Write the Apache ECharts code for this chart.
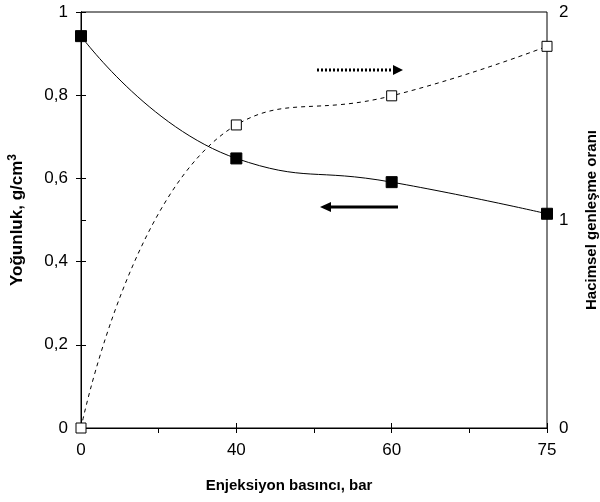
<!DOCTYPE html>
<html><head><meta charset="utf-8">
<script src="https://cdn.jsdelivr.net/npm/echarts@6/dist/echarts.min.js"></script>
<style>html,body{margin:0;padding:0;background:#fff}#c{width:600px;height:502px}</style>
</head><body><div id="c"></div>
<script>
var categories = ['0', '40', '60', '75'];
var density = [0.942, 0.648, 0.591, 0.515];
var expansion = [0, 1.457, 1.597, 1.835];
var leftTicks = ['0', '0,2', '0,4', '0,6', '0,8', '1'];
var rightTicks = ['0', '1', '2'];

var FONT = '"Liberation Sans", Arial, sans-serif';
var chart = echarts.init(document.getElementById('c'));
function pts(arr){ return arr.map(function(v,i){ return [i, v]; }); }
var tickStyle = {color:'#000', fontFamily: FONT, fontSize: 17};
function nameStyle(sz){ return {color:'#000', fontFamily: FONT, fontWeight:'bold', fontSize: sz}; }

chart.setOption({
  animation: false,
  backgroundColor: '#fff',
  grid: {left: 81, right: 53, top: 12, bottom: 74, show: true, borderColor: '#000', borderWidth: 1,
         containLabel: false, outerBoundsMode: 'none'},
  xAxis: [{
    type: 'value', min: 0, max: categories.length - 1, interval: 1,
    axisLine: {lineStyle: {color:'#000'}},
    axisTick: {length: 5, lineStyle:{color:'#000'}},
    minorTick: {show: true, splitNumber: 2, length: 5, lineStyle:{color:'#000'}},
    splitLine: {show: false},
    axisLabel: Object.assign({margin: 14, formatter: function(v){ return categories[v] || ''; }}, tickStyle),
    name: 'Enjeksiyon basıncı, bar', nameLocation: 'middle', nameGap: 50,
    nameTextStyle: Object.assign({padding: [0, 50, 0, 0]}, nameStyle(15))
  }, {
    type: 'value', min: 0, max: categories.length - 1, interval: 1, position: 'bottom',
    axisLine: {show: false}, axisTick: {show: true, inside: true, length: 5, lineStyle:{color:'#000'}},
    axisLabel: {show: false}, splitLine: {show: false}
  }],
  yAxis: [{
    type: 'value', min: 0, max: 1, interval: 0.2, position: 'left',
    axisLine: {show: true, lineStyle: {color:'#000'}},
    axisTick: {show: true, length: 5, lineStyle:{color:'#000'}},
    splitLine: {show: false},
    axisLabel: Object.assign({margin: 13, formatter: function(v){ return leftTicks[Math.round(v/0.2)]; }}, tickStyle),
    name: 'Yoğunluk, g/cm{sup|3}', nameLocation: 'middle', nameGap: 53,
    nameTextStyle: Object.assign({rich: {sup: {fontSize: 12, fontWeight: 'bold', fontFamily: FONT, color: '#000', padding: [0, 0, 9, 0]}}}, nameStyle(17))
  }, {
    type: 'value', min: 0, max: 2, interval: 1, position: 'right',
    axisLine: {show: true, lineStyle: {color:'#000'}},
    axisTick: {show: true, length: 5, lineStyle:{color:'#000'}},
    splitLine: {show: false},
    axisLabel: Object.assign({margin: 12, formatter: function(v){ return rightTicks[Math.round(v)]; }}, tickStyle),
    name: 'Hacimsel genleşme oranı', nameLocation: 'middle', nameGap: 37, nameRotate: 90, nameTextStyle: nameStyle(15)
  }, {
    type: 'value', min: 0, max: 1, interval: 0.2, position: 'left',
    axisLine: {show: false}, axisTick: {show: true, inside: true, length: 5, lineStyle:{color:'#000'}},
    axisLabel: {show: false}, splitLine: {show: false}
  }],
  series: [{
    type: 'line', yAxisIndex: 0, data: pts(density), smooth: 0.5,
    symbol: 'rect', symbolSize: 11, showAllSymbol: true,
    lineStyle: {color:'#000', width: 1},
    itemStyle: {color:'#000', borderColor:'#000'}, clip: false, z: 5
  }, {
    type: 'line', yAxisIndex: 1, data: pts(expansion), smooth: 0.5,
    symbol: 'rect', symbolSize: 10, showAllSymbol: true,
    lineStyle: {color:'#000', width: 1, type: [4, 4]},
    itemStyle: {color:'#fff', borderColor:'#000', borderWidth: 1}, clip: false, z: 5
  }],
  graphic: [
    {type:'line', shape:{x1:317, y1:70, x2:394, y2:70}, style:{stroke:'#000', lineWidth:3, lineDash:[2,2]}},
    {type:'polygon', shape:{points:[[393,65],[403,70],[393,75]]}, style:{fill:'#000'}},
    {type:'line', shape:{x1:330, y1:207, x2:398, y2:207}, style:{stroke:'#000', lineWidth:3}},
    {type:'polygon', shape:{points:[[331,202],[320,207],[331,212]]}, style:{fill:'#000'}}
  ]
});
</script></body></html>
